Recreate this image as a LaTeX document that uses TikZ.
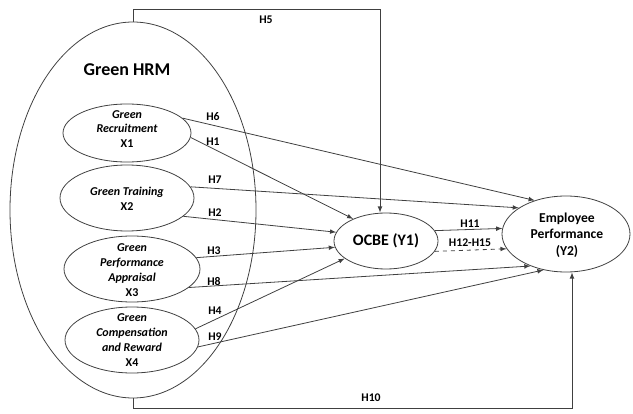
\documentclass[tikz,border=0pt]{standalone}
\usepackage{fontspec}
\setmainfont{Carlito}
\usetikzlibrary{shapes.geometric}

\begin{document}
\begin{tikzpicture}[
    x=0.75pt, y=-0.75pt,
    font=\bfseries,
    oval/.style={draw=black!75, line width=0.6pt, ellipse, inner sep=0pt},
    dimtext/.style={align=center, inner sep=0pt, font=\bfseries\itshape\fontsize{9}{11.2}\selectfont},
    vartext/.style={align=center, inner sep=0pt, font=\bfseries\fontsize{10.2}{12.4}\selectfont},
    hyp/.style={inner sep=1pt, font=\bfseries\fontsize{8.8}{10}\selectfont},
    link/.style={draw=black!75, line width=0.6pt, ->, >=latex},
    dashed link/.style={link, dashed}
]
\useasboundingbox (0,0) rectangle (633,414);

% Green HRM construct
\node[oval, minimum width=184.5pt, minimum height=282pt] (hrm) at (133,210) {};
\node[inner sep=0pt, font=\bfseries\fontsize{13.5}{16}\selectfont] (hrmText) at (127,70) {Green HRM};

% Dimensions
\node[oval, minimum width=96pt, minimum height=43.5pt] (rec) at (127,133) {};
\node[dimtext] (recText) at (127,129) {Green\\Recruitment\\\upshape X1};

\node[oval, minimum width=100.5pt, minimum height=49.5pt] (train) at (127,198) {};
\node[dimtext] (trainText) at (127,199) {Green Training\\\upshape X2};

\node[oval, minimum width=102pt, minimum height=49.5pt] (appr) at (132,269) {};
\node[dimtext] (apprText) at (132,270) {Green\\Performance\\Appraisal\\\upshape X3};

\node[oval, minimum width=100.5pt, minimum height=49.5pt] (comp) at (132,340) {};
\node[dimtext] (compText) at (132,340) {Green\\Compensation\\and Reward\\\upshape X4};

% Mediator and outcome
\node[oval, minimum width=78pt, minimum height=42pt] (ocbe) at (386,241) {};
\node[vartext] (ocbeText) at (386,241) {\fontsize{12}{14}\selectfont OCBE (Y1)};

\node[oval, minimum width=96pt, minimum height=57pt] (perf) at (566,234) {};
\node[vartext] (perfText) at (567,235) {Employee\\Performance\\(Y2)};

% Corners of the outer paths
\coordinate (h5top) at (380,9);
\coordinate (h10bot) at (572,408);

% Edges to OCBE
\draw[link] (hrm.north) |- (h5top) -- (h5top |- ocbe.north);
\draw[link] (rec.-4) -- (ocbe.146);
\draw[link] (train.-18) -- (ocbe.170);
\draw[link] (appr.10) -- (ocbe.187);
\draw[link] (comp.10) -- (ocbe.203);

% Edges to Employee Performance
\draw[link] (rec.15) -- (perf.133);
\draw[link] (train.10) -- (perf.151);
\draw[link] (appr.-18) -- (perf.222);
\draw[link] (comp.-6) -- (perf.238);
\draw[link] (hrm.south) |- (h10bot) -- (h10bot |- perf.south);
\draw[link] (ocbe.12) -- (perf.175);
\draw[dashed link] (ocbe.-12) -- (perf.194);

% Hypothesis labels
\node[hyp] (h5) at (266,20) {H5};
\node[hyp] (h6) at (213,117) {H6};
\node[hyp] (h1) at (213,142) {H1};
\node[hyp] (h7) at (215,180) {H7};
\node[hyp] (h2) at (215,213) {H2};
\node[hyp] (h3) at (214,251) {H3};
\node[hyp] (h8) at (214,281) {H8};
\node[hyp] (h4) at (215,311) {H4};
\node[hyp] (h9) at (215,337) {H9};
\node[hyp] (h11) at (470,224) {H11};
\node[hyp] (h12) at (470,243) {H12-H15};
\node[hyp] (h10) at (371,398) {H10};

\end{tikzpicture}
\end{document}
